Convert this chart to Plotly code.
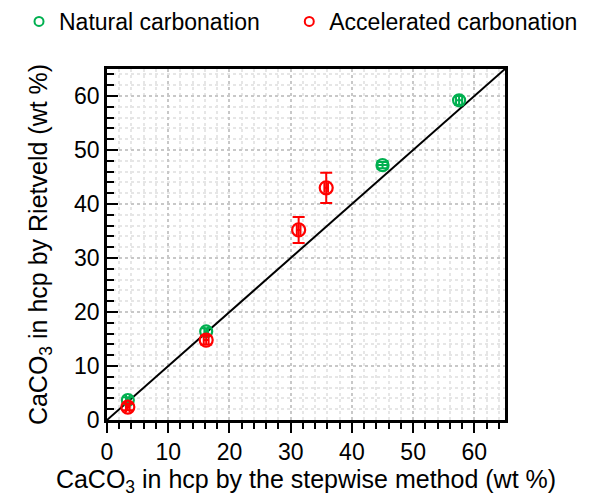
import plotly.graph_objects as go

# Natural carbonation
nat_x = [3.4, 16.2, 45.0, 57.5]
nat_y = [3.7, 16.4, 47.2, 59.2]
nat_xerr = [0.3, 0.3, 0.8, 0.5]
nat_yerr = [0.5, 0.6, 0.6, 0.8]

# Accelerated carbonation
acc_x = [3.4, 16.2, 31.3, 35.8]
acc_y = [2.4, 14.8, 35.2, 43.0]
acc_xerr = [0.3, 0.4, 0.3, 0.3]
acc_yerr = [0.6, 0.8, 2.4, 2.8]

line_x = [0, 65]
line_y = [0, 65]

GREEN = "#00b050"
RED = "#ff0000"
FONT = "Arial, Liberation Sans, sans-serif"

fig = go.Figure()

fig.add_trace(go.Scatter(x=line_x, y=line_y, mode="lines",
                         line=dict(color="black", width=2), showlegend=False, hoverinfo="skip"))

fig.add_trace(go.Scatter(
    x=nat_x, y=nat_y, mode="markers", showlegend=False,
    marker=dict(symbol="circle-open", size=12, color=GREEN, line=dict(width=2.2, color=GREEN)),
    error_y=dict(type="data", array=nat_yerr, color=GREEN, thickness=2, width=5),
    error_x=dict(type="data", array=nat_xerr, color=GREEN, thickness=2, width=5),
))
fig.add_trace(go.Scatter(
    x=acc_x, y=acc_y, mode="markers", showlegend=False,
    marker=dict(symbol="circle-open", size=13, color=RED, line=dict(width=2.2, color=RED)),
    error_y=dict(type="data", array=acc_yerr, color=RED, thickness=2, width=6),
    error_x=dict(type="data", array=acc_xerr, color=RED, thickness=2, width=5),
))

# legend entries
fig.add_trace(go.Scatter(x=[None], y=[None], mode="markers", name="Natural carbonation",
                         legend="legend",
                         marker=dict(symbol="circle-open", size=9, color=GREEN, line=dict(width=2, color=GREEN))))
fig.add_trace(go.Scatter(x=[None], y=[None], mode="markers", name="Accelerated carbonation",
                         legend="legend2",
                         marker=dict(symbol="circle-open", size=9, color=RED, line=dict(width=2, color=RED))))

axis_common = dict(
    range=[0, 65], dtick=10, tick0=0,
    showline=True, linecolor="black", linewidth=2.5, mirror=True,
    tickwidth=2, tickcolor="black",
    showgrid=True, gridcolor="#c8c8c8", griddash="dot", gridwidth=1.5,
    zeroline=False,
    tickfont=dict(family=FONT, size=23, color="black"),
)

fig.update_xaxes(**axis_common, ticks="outside", ticklen=10,
                 minor=dict(dtick=2, ticks="outside", ticklen=6, tickwidth=2, tickcolor="black",
                            showgrid=True, gridcolor="#e6e6e6", griddash="dot", gridwidth=1.5),
                 title=dict(text="CaCO<sub>3</sub> in hcp by the stepwise method (wt %)",
                            font=dict(family=FONT, size=25, color="black"), standoff=9))
fig.update_yaxes(**axis_common, ticks="inside", ticklen=11,
                 minor=dict(dtick=2, ticks="inside", ticklen=7, tickwidth=2, tickcolor="black",
                            showgrid=True, gridcolor="#e6e6e6", griddash="dot", gridwidth=1.5),
                 title=dict(text="CaCO<sub>3</sub> in hcp by Rietveld (wt %)",
                            font=dict(family=FONT, size=25, color="black"), standoff=20))

legend_common = dict(orientation="h", y=1.0, xref="container", yref="container",
                     xanchor="left", yanchor="top",
                     font=dict(family=FONT, size=23, color="black"),
                     itemwidth=30, bgcolor="rgba(0,0,0,0)")

fig.update_layout(
    width=594, height=497,
    margin=dict(l=107, r=89, t=69, b=77, autoexpand=False),
    plot_bgcolor="white", paper_bgcolor="white",
    font=dict(family=FONT, color="black"),
    legend=dict(x=0.032, **legend_common),
    legend2=dict(x=0.487, **legend_common),
)

fig.write_html("out.html")
